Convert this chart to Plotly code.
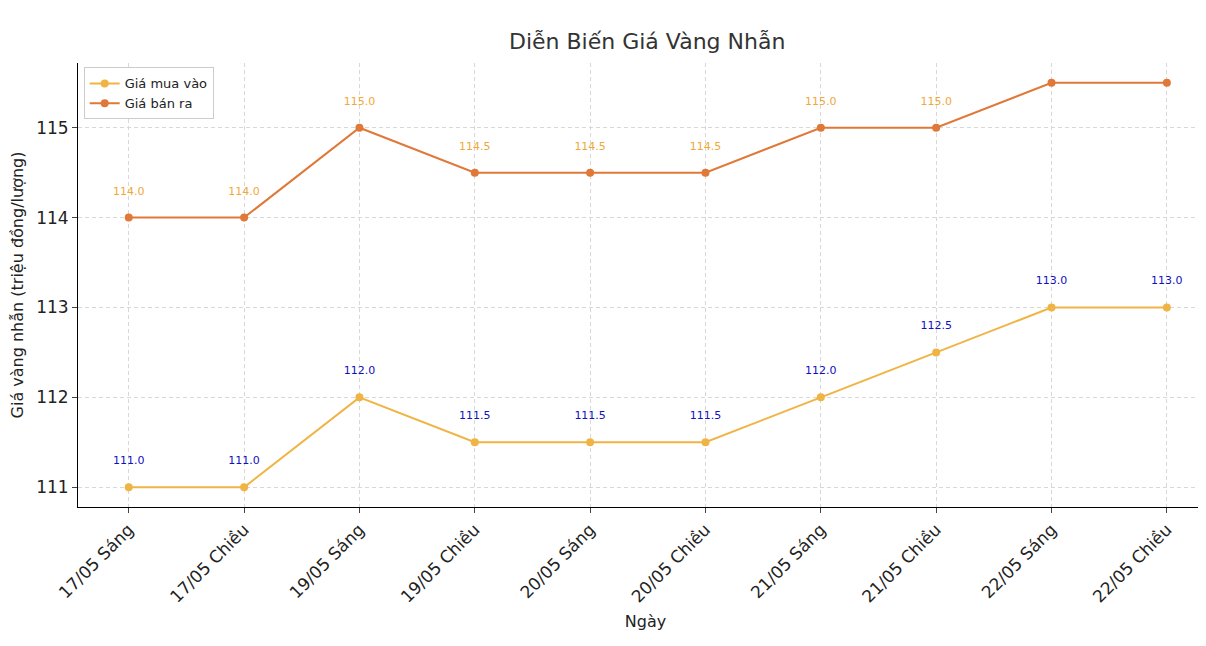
import plotly.graph_objects as go

categories = ["17/05 Sáng","17/05 Chiều","19/05 Sáng","19/05 Chiều","20/05 Sáng","20/05 Chiều","21/05 Sáng","21/05 Chiều","22/05 Sáng","22/05 Chiều"]
buy = [111.0,111.0,112.0,111.5,111.5,111.5,112.0,112.5,113.0,113.0]
sell = [114.0,114.0,115.0,114.5,114.5,114.5,115.0,115.0,115.5,115.5]

x = list(range(len(categories)))
fig = go.Figure()
fig.add_trace(go.Scatter(x=x, y=buy, mode="lines+markers+text", name="Giá mua vào",
    line=dict(color="#f0b444", width=2), marker=dict(size=8),
    text=[f"{v:.1f}<br> " for v in buy], textposition="top center",
    textfont=dict(color="#1010c0", size=11)))
fig.add_trace(go.Scatter(x=x, y=sell, mode="lines+markers+text", name="Giá bán ra",
    line=dict(color="#e07838", width=2), marker=dict(size=8),
    text=[f"{v:.1f}<br> " for v in sell], textposition="top center",
    textfont=dict(color="#f0a838", size=11)))

fig.update_layout(
    width=1206, height=646, plot_bgcolor="white", paper_bgcolor="white",
    font=dict(family="DejaVu Sans", color="#222"),
    title=dict(text="Diễn Biến Giá Vàng Nhẫn", x=0.53, y=0.96, xanchor="center", yanchor="top", font=dict(size=22, color="#333")),
    margin=dict(l=70, r=1, t=55, b=147),
    legend=dict(x=0.005, y=0.99, xanchor="left", yanchor="top", bordercolor="#ccc", borderwidth=1, font=dict(size=13)),
    showlegend=True,
)
fig.update_xaxes(tickvals=x, ticktext=categories, tickangle=-45, range=[-0.44, 9.4], automargin=False,
    showline=True, linecolor="black", ticks="outside", tickfont=dict(size=17),
    showgrid=True, gridcolor="#d8d8d8", griddash="4px,3px", zeroline=False,
    title=dict(text="Ngày", font=dict(size=16), standoff=10))
fig.update_yaxes(range=[110.78, 115.72], tickvals=[111,112,113,114,115], automargin=False,
    showline=True, linecolor="black", ticks="outside", tickfont=dict(size=17),
    showgrid=True, gridcolor="#d8d8d8", griddash="4px,3px", zeroline=False,
    title=dict(text="Giá vàng nhẫn (triệu đồng/lượng)", font=dict(size=16), standoff=8))
fig.write_html("out.html")
